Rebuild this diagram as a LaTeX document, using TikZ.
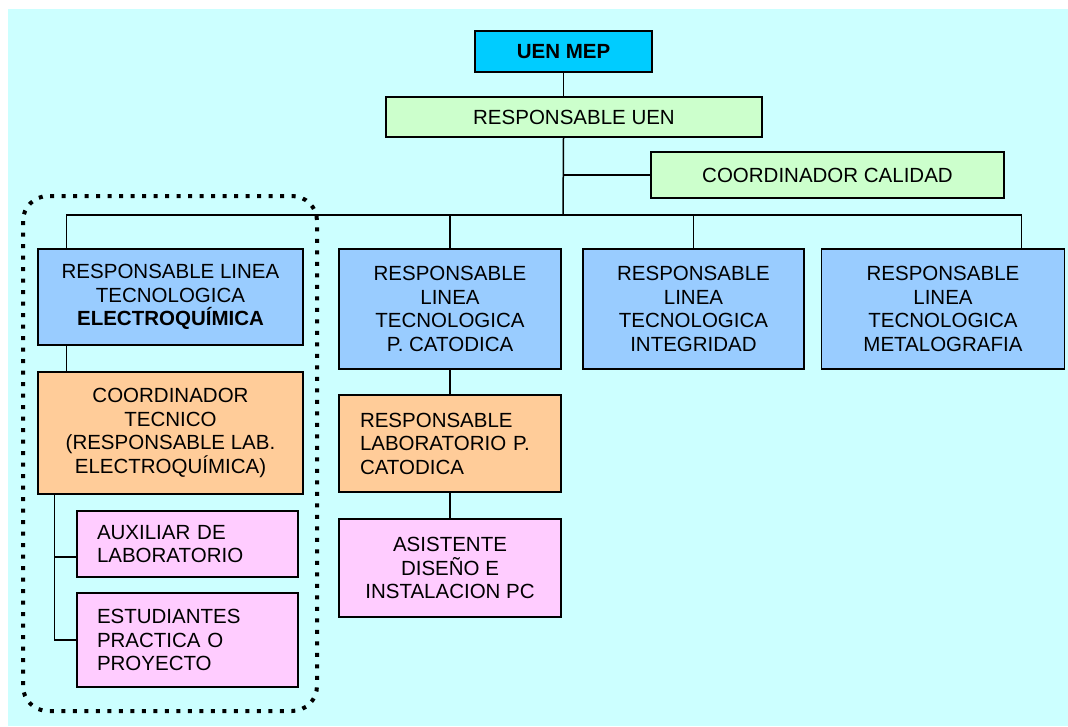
\documentclass[tikz,border=0pt]{standalone}
\usepackage{fontspec}
\setmainfont{Liberation Sans}

\definecolor{fondo}{HTML}{CCFFFF}
\definecolor{cielo}{HTML}{00CCFF}
\definecolor{verde}{HTML}{CCFFCC}
\definecolor{azul}{HTML}{99CCFF}
\definecolor{naranja}{HTML}{FFCC99}
\definecolor{rosa}{HTML}{FFCCFF}

\begin{document}
\begin{tikzpicture}[x=1pt, y=-1pt, line width=1.5pt,
        caja/.style={draw, line width=1.5pt, inner sep=0pt, align=center,
            font=\fontsize{20.5}{23.5}\selectfont},
        cajaizq/.style={caja, align=left}]
    \useasboundingbox (0,0) rectangle (1068,726);
    \fill[fondo] (8,9) rectangle (1068,726);
    \node[caja, fill=cielo, minimum width=177pt, minimum height=41pt,
        font=\fontsize{20.5}{23.5}\selectfont\bfseries] (uen) at (563.5,51.5) {UEN MEP};
    \node[caja, fill=verde, minimum width=376pt, minimum height=40pt] (resp) at (574,117)
        {RESPONSABLE UEN};
    \node[caja, fill=verde, minimum width=353pt, minimum height=46pt] (cal) at (827.5,175)
        {COORDINADOR CALIDAD};
    \node[caja, fill=azul, minimum width=265pt, minimum height=96pt] (e1) at (170.5,297)
        {RESPONSABLE LINEA\\TECNOLOGICA\\\textbf{ELECTROQUÍMICA}};
    \node[caja, fill=azul, minimum width=222pt, minimum height=120pt] (e2) at (450,309)
        {RESPONSABLE\\LINEA\\TECNOLOGICA\\P. CATODICA};
    \node[caja, fill=azul, minimum width=221pt, minimum height=120pt] (e3) at (693.5,309)
        {RESPONSABLE\\LINEA\\TECNOLOGICA\\INTEGRIDAD};
    \node[caja, fill=azul, minimum width=243pt, minimum height=120pt] (e4) at (943,309)
        {RESPONSABLE\\LINEA\\TECNOLOGICA\\METALOGRAFIA};
    \node[caja, fill=naranja, minimum width=265pt, minimum height=122pt] (tec) at (170.5,433)
        {COORDINADOR\\TECNICO\\(RESPONSABLE LAB.\\ELECTROQUÍMICA)};
    \node[cajaizq, fill=rosa, text width=181pt, inner xsep=20pt, minimum height=66pt] (aux)
        at (187.5,544) {AUXILIAR DE\\LABORATORIO};
    \node[cajaizq, fill=rosa, text width=181pt, inner xsep=20pt, minimum height=94pt] (est)
        at (187.5,640) {ESTUDIANTES\\PRACTICA O\\PROYECTO};
    \node[cajaizq, fill=naranja, text width=180pt, inner xsep=21pt, minimum height=97pt] (lab)
        at (450,443.5) {RESPONSABLE\\LABORATORIO P.\\CATODICA};
    \node[caja, fill=rosa, minimum width=222pt, minimum height=98pt] (asis) at (450,568)
        {ASISTENTE\\DISEÑO E\\INSTALACION PC};
    \coordinate (bus) at (563,215);
    \draw (uen.south) -- (uen.south |- resp.north);
    \draw (uen.south |- resp.south) -- (bus);
    \draw (uen.south |- cal.west) -- (cal.west);
    \draw ([xshift=29pt]e1.north west) |- (bus) -| ([xshift=-44pt]e4.north east);
    \draw (e2.north) -- (e2.north |- bus);
    \draw (e3.north) -- (e3.north |- bus);
    \draw ([xshift=29pt]e1.south west) -- ([xshift=29pt]tec.north west);
    \draw ([xshift=17pt]tec.south west) |- (est.west);
    \draw ([yshift=-13pt]aux.west) -- +(-22,0);
    \draw (e2) -- (lab);
    \draw (lab) -- (asis);
    \draw [line width=4pt, dash pattern=on 4pt off 7.5pt, rounded corners=25pt]
        (23,196) rectangle (317,711);
\end{tikzpicture}
\end{document}
